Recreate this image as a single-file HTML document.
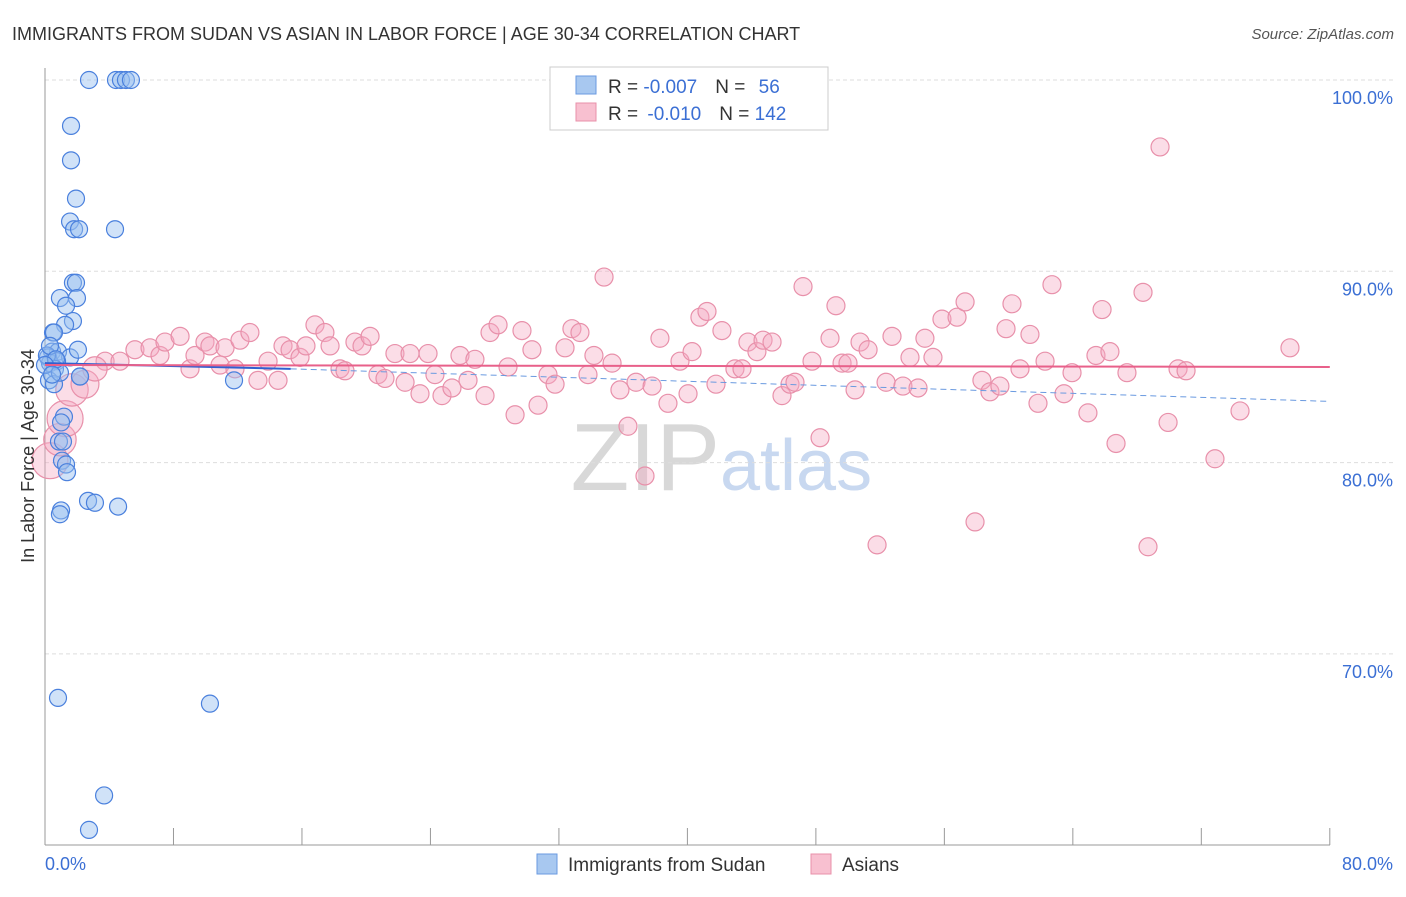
<!DOCTYPE html>
<html><head><meta charset="utf-8"><style>
body{margin:0;background:#fff;font-family:"Liberation Sans",sans-serif}
svg text{font-family:"Liberation Sans",sans-serif}
</style></head><body>
<svg id="c" width="1406" height="892" xmlns="http://www.w3.org/2000/svg">
<text x="12" y="40" font-size="18" fill="#333">IMMIGRANTS FROM SUDAN VS ASIAN IN LABOR FORCE | AGE 30-34 CORRELATION CHART</text>
<text x="1394" y="39" font-size="15" fill="#555" font-style="italic" text-anchor="end">Source: ZipAtlas.com</text>
<text x="720" y="490" font-size="96" fill="#d8d8d8" text-anchor="end" font-family="Liberation Serif">ZIP</text>
<text x="720" y="490" font-size="72" fill="#c8d8f0">atlas</text>
<g id="grid"></g><g id="pts"></g><g id="lines"></g>
<text transform="translate(34,456) rotate(-90)" font-size="18" fill="#333" text-anchor="middle">In Labor Force | Age 30-34</text>
<text x="45" y="870" font-size="18" fill="#3b6fd4">0.0%</text>
<text x="1393" y="870" font-size="18" fill="#3b6fd4" text-anchor="end">80.0%</text>
<g>
<rect x="550" y="67" width="278" height="63" fill="#fff" stroke="#ccc"/>
<rect x="576" y="76" width="20" height="18" fill="#a8c8f0" stroke="#6a9ae0"/>
<rect x="576" y="103" width="20" height="18" fill="#f8c0d0" stroke="#e890aa"/>
<text x="608" y="93" font-size="19" fill="#333">R = <tspan fill="#3b6fd4">-0.007</tspan><tspan dx="18">N = </tspan><tspan fill="#3b6fd4" dx="8">56</tspan></text>
<text x="608" y="120" font-size="19" fill="#333">R = <tspan fill="#3b6fd4" dx="4">-0.010</tspan><tspan dx="18">N = </tspan><tspan fill="#3b6fd4">142</tspan></text>
</g>
<g>
<rect x="537" y="854" width="20" height="20" fill="#a8c8f0" stroke="#6a9ae0"/>
<text x="568" y="871" font-size="19" fill="#333">Immigrants from Sudan</text>
<rect x="811" y="854" width="20" height="20" fill="#f8c0d0" stroke="#e890aa"/>
<text x="842" y="871" font-size="19" fill="#333">Asians</text>
</g>
</svg>
<script>
const yTicks=[100,90,80,70];
const yTickLabels=["100.0%","90.0%","80.0%","70.0%"];
const blueX=[2.74,4.42,4.73,5.04,5.35,1.62,1.62,1.93,1.56,1.81,2.12,4.36,1.74,1.93,1.99,0.93,1.31,1.74,1.25,0.5,0.56,0.44,0.81,0.19,0.31,1.56,0.75,2.05,0.62,0.25,0.56,2.18,11.77,1.18,1.0,0.87,1.12,1.06,1.31,1.37,2.68,3.11,4.55,1.0,0.93,0.81,10.27,3.68,2.74,2.18,0.93,0.12,0.31,0.68,0,0.44];
const blueY=[100,100,100,100,100,97.6,95.8,93.8,92.6,92.2,92.2,92.2,89.4,89.4,88.6,88.6,88.2,87.4,87.2,86.8,86.8,85.8,85.8,85.5,85.2,85.5,85.3,85.9,84.9,84.3,84.1,84.5,84.3,82.4,82.1,81.1,81.1,80.1,79.9,79.5,78.0,77.9,77.7,77.5,77.3,67.7,67.4,62.6,60.8,84.5,84.7,85.6,86.1,85.4,85.1,84.6];
const pinkX=[3.74,4.67,5.60,6.54,7.16,7.47,8.41,9.03,9.34,9.96,10.27,10.90,11.21,11.83,12.14,12.76,13.26,13.89,14.51,14.82,15.26,15.88,16.25,16.81,17.43,17.75,18.37,18.68,19.30,19.74,20.24,20.73,21.17,21.79,22.42,22.73,23.35,23.85,24.28,24.72,25.34,25.84,26.34,26.77,27.40,27.71,28.21,28.83,29.27,29.70,30.32,30.70,31.32,31.76,32.38,32.81,33.31,33.81,34.18,34.81,35.31,35.80,36.30,36.80,37.36,37.80,38.29,38.79,39.54,40.04,40.29,40.78,41.22,41.78,42.15,42.96,43.40,43.77,44.33,44.71,45.27,45.89,46.39,46.70,47.20,47.76,48.26,48.88,49.25,49.63,50.00,50.44,50.75,51.25,51.81,52.37,52.74,53.42,53.86,54.36,54.79,55.29,55.85,56.79,57.29,57.91,58.34,58.84,59.46,59.84,60.21,60.71,61.33,61.83,62.27,62.70,63.45,63.95,64.94,65.44,65.82,66.31,66.69,67.37,68.37,68.68,69.43,69.93,70.55,71.05,72.85,74.41,77.52,0.31,0.93,1.25,1.68,2.49,3.11];
const pinkY=[85.3,85.3,85.9,86.0,85.6,86.3,86.6,84.9,85.6,86.3,86.1,85.1,86.0,84.9,86.4,86.8,84.3,85.3,84.3,86.1,85.9,85.5,86.1,87.2,86.8,86.1,84.9,84.8,86.3,86.1,86.6,84.6,84.4,85.7,84.2,85.7,83.6,85.7,84.6,83.5,83.9,85.6,84.3,85.4,83.5,86.8,87.2,85.0,82.5,86.9,85.9,83.0,84.6,84.1,86.0,87.0,86.8,84.6,85.6,89.7,85.2,83.8,81.9,84.2,79.3,84.0,86.5,83.1,85.3,83.6,85.8,87.6,87.9,84.1,86.9,84.9,84.9,86.3,85.8,86.4,86.3,83.5,84.1,84.2,89.2,85.3,81.3,86.5,88.2,85.2,85.2,83.8,86.3,85.9,75.7,84.2,86.6,84.0,85.5,83.9,86.5,85.5,87.5,87.6,88.4,76.9,84.3,83.7,84.0,87.0,88.3,84.9,86.7,83.1,85.3,89.3,83.6,84.7,82.6,85.6,88.0,85.8,81.0,84.7,88.9,75.6,96.5,82.1,84.9,84.8,80.2,82.7,86.0,80.1,81.2,82.3,83.8,84.1,84.9];
const pinkW=[];for(let i=0;i<pinkX.length;i++)pinkW.push(1);
const bigW=[2,1.8,2,1.8,1.55,1.35];
for(let i=0;i<6;i++)pinkW[pinkX.length-6+i]=bigW[i];
const xs=v=>45+v*16.06, ys=v=>80+(100-v)*19.13;
const NS="http://www.w3.org/2000/svg";
function mk(t,a,p){const e=document.createElementNS(NS,t);for(const k in a)e.setAttribute(k,a[k]);p.appendChild(e);return e;}
const grid=document.getElementById('grid');
yTicks.forEach((t,i)=>{
 const l=mk('line',{x1:45,x2:1393,y1:ys(t),y2:ys(t),stroke:'#ddd','stroke-dasharray':'4,3'},grid);
 
 
 const tx=mk('text',{x:1393,y:ys(t)+24,'font-size':18,fill:'#3b6fd4','text-anchor':'end'},grid);
 tx.textContent=yTickLabels[i];
 
 
});
const ax=mk('line',{x1:45,x2:45,y1:68,y2:845,stroke:'#999'},grid);


const bx=mk('line',{x1:45,x2:1330,y1:845,y2:845,stroke:'#999'},grid);


for(let i=0;i<=10;i++){const t=mk('line',{x1:xs(i*8),x2:xs(i*8),y1:828,y2:845,stroke:'#999'},grid);
 
 }
const pts=document.getElementById('pts');
pinkX.forEach((x,i)=>{const c=mk('circle',{cx:xs(x),cy:ys(pinkY[i]),r:9*pinkW[i],fill:'rgba(245,170,195,0.4)',stroke:'#e890aa','stroke-width':1.2},pts);
 
 });
blueX.forEach((x,i)=>{const c=mk('circle',{cx:xs(x),cy:ys(blueY[i]),r:8.5,fill:'rgba(150,190,240,0.45)',stroke:'#4a80dd','stroke-width':1.2},pts);
 
 });
const L=document.getElementById('lines');
const b1=mk('line',{x1:xs(0),y1:ys(85.2),x2:xs(15.3),y2:ys(84.9),stroke:'#3060d0','stroke-width':2},L);


const b2=mk('line',{x1:xs(15.3),y1:ys(84.9),x2:xs(80),y2:ys(83.2),stroke:'#6a9ae0','stroke-width':1,'stroke-dasharray':'6,4'},L);


const p1=mk('line',{x1:xs(0),y1:ys(85.1),x2:xs(80),y2:ys(85.0),stroke:'#e8608a','stroke-width':2},L);


</script>
</body></html>
